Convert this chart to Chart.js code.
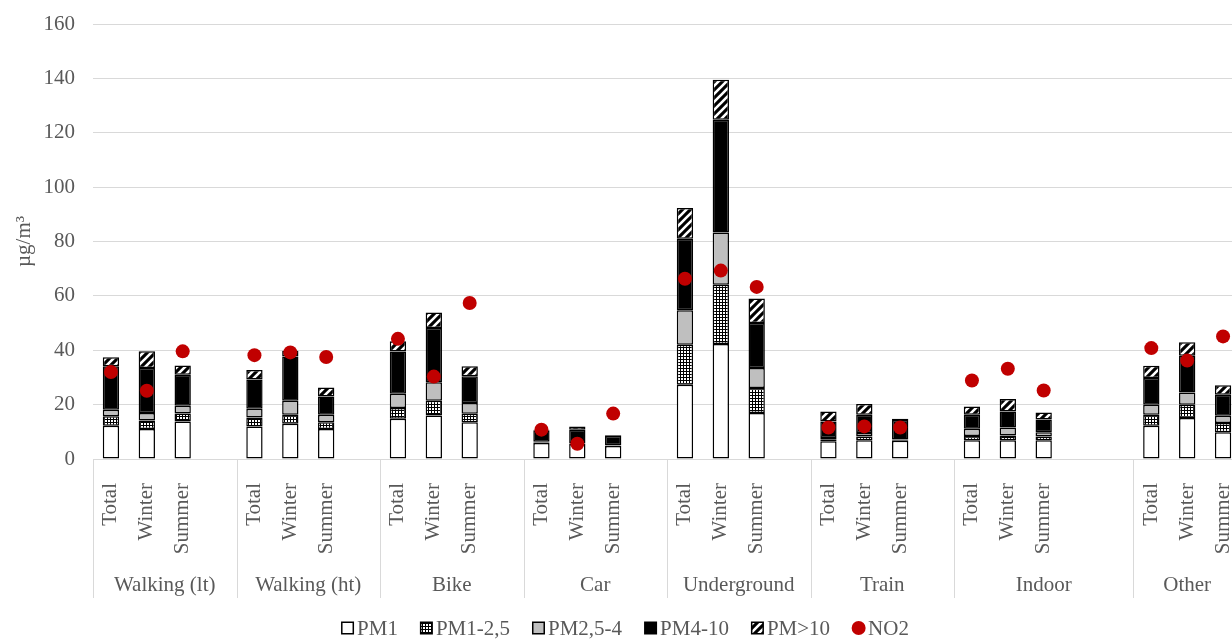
<!DOCTYPE html>
<html>
<head>
<meta charset="utf-8">
<script src="https://cdn.jsdelivr.net/npm/chart.js@4.4.1/dist/chart.umd.min.js"></script>
<style>
  html, body { margin: 0; padding: 0; overflow: hidden; background: #fff; }
  canvas { display: block; }
</style>
</head>
<body>
<canvas id="chart" width="1250" height="640"></canvas>
<script>
// Exposure categories and the three periods shown for each of them
const groups = ['Walking (lt)', 'Walking (ht)', 'Bike', 'Car', 'Underground', 'Train', 'Indoor', 'Other'];
const seasons = ['Total', 'Winter', 'Summer'];
// empty category slots left after each group on the x axis
const trailingGaps = [1, 1, 1, 1, 1, 1, 2, 0];

// Mass concentration per size fraction (µg/m³), ordered group by group: Total, Winter, Summer
const pm1    = [12.2, 11.0, 13.8,  12.0, 13.0, 11.0,  14.8, 16.0, 13.5,  5.9, 5.5, 4.8,  27.3, 42.3, 16.9,  6.5, 6.9, 6.7,  6.9, 6.9, 6.9,  12.2, 15.1, 9.8];
const pm1_25 = [3.5, 3.2, 2.9,  3.3, 3.3, 2.5,  4.0, 5.4, 3.1,  0.2, 0.2, 0.2,  14.7, 21.8, 9.2,  0.8, 1.4, 0.3,  1.6, 1.7, 1.4,  4.1, 4.9, 3.4];
const pm25_4 = [2.4, 2.7, 2.9,  3.2, 5.1, 2.8,  5.2, 6.8, 4.0,  0.2, 0.2, 0.1,  12.7, 19.2, 7.4,  0.4, 1.3, 0.2,  2.6, 3.0, 1.5,  3.7, 4.5, 2.7];
const pm4_10 = [16.0, 16.6, 11.4,  10.7, 16.3, 6.7,  15.5, 20.0, 9.8,  4.3, 4.9, 3.4,  26.3, 41.5, 16.5,  6.1, 6.7, 7.1,  5.2, 5.9, 4.7,  9.8, 13.5, 7.7];
const pm10   = [3.3, 6.1, 3.4,  3.5, 2.1, 3.3,  3.8, 5.7, 3.7,  0.2, 1.2, 0.2,  11.3, 14.7, 9.0,  3.7, 3.9, 0.5,  3.0, 4.6, 2.6,  4.5, 4.9, 3.5];
// NO2 concentration (µg/m³)
const no2    = [32.0, 25.1, 39.6,  38.2, 39.2, 37.5,  44.2, 30.3, 57.4,  10.8, 5.6, 16.7,  66.3, 69.3, 63.3,  11.6, 12.0, 11.6,  28.9, 33.2, 25.2,  40.8, 36.2, 45.1];

// y axis range
const yMin = 0, yMax = 160, yStep = 20;

const FONT = "'Liberation Serif', 'Times New Roman', serif";
const TEXT = '#595959';
const GRID = '#d9d9d9';

// spread a per-group series over the category slots, leaving the gap slots empty
function toSlots(values, filler) {
  const out = [];
  groups.forEach((g, gi) => {
    seasons.forEach((s, si) => out.push(values[gi * seasons.length + si]));
    for (let k = 0; k < trailingGaps[gi]; k++) out.push(filler);
  });
  return out;
}
const labels = toSlots(groups.flatMap(() => seasons), '');

function dotPattern() {
  const c = document.createElement('canvas');
  c.width = 3; c.height = 3;
  const x = c.getContext('2d');
  x.fillStyle = '#000'; x.fillRect(0, 0, 3, 3);
  x.fillStyle = '#fff'; x.fillRect(0, 0, 2, 2);
  return x.createPattern(c, 'repeat');
}
function hatchPattern() {
  const s = 8;
  const c = document.createElement('canvas');
  c.width = s; c.height = s;
  const x = c.getContext('2d');
  x.fillStyle = '#000'; x.fillRect(0, 0, s, s);
  x.strokeStyle = '#fff'; x.lineWidth = 2.6;
  x.beginPath();
  x.moveTo(0, s); x.lineTo(s, 0);
  x.moveTo(-s / 2, s / 2); x.lineTo(s / 2, -s / 2);
  x.moveTo(s / 2, s * 1.5); x.lineTo(s * 1.5, s / 2);
  x.stroke();
  return x.createPattern(c, 'repeat');
}

const barCommon = {
  borderColor: '#000',
  borderWidth: 1.5,
  borderSkipped: false,
  stack: 'pm',
  order: 1,
  barPercentage: 0.455,
  categoryPercentage: 1
};

const datasets = [
  { label: 'PM1',      data: toSlots(pm1, null),    backgroundColor: '#ffffff', ...barCommon },
  { label: 'PM1-2,5',  data: toSlots(pm1_25, null), backgroundColor: dotPattern(), ...barCommon },
  { label: 'PM2,5-4',  data: toSlots(pm25_4, null), backgroundColor: '#bfbfbf', ...barCommon },
  { label: 'PM4-10',   data: toSlots(pm4_10, null), backgroundColor: '#000000', ...barCommon },
  { label: 'PM>10',    data: toSlots(pm10, null),   backgroundColor: hatchPattern(), ...barCommon },
  {
    type: 'line', label: 'NO2', data: toSlots(no2, null),
    showLine: false, stack: 'no2', order: 0,
    pointRadius: 7, pointHoverRadius: 7, pointBorderWidth: 0,
    pointBackgroundColor: '#c00000', backgroundColor: '#c00000', borderColor: '#c00000'
  }
];

// group names and separators under the season labels
const groupAxis = {
  id: 'groupAxis',
  afterDraw(chart) {
    const xs = chart.scales.x;
    const ctx = chart.ctx;
    const step = xs.getPixelForValue(1) - xs.getPixelForValue(0);
    ctx.save();
    ctx.strokeStyle = GRID;
    ctx.lineWidth = 1;
    ctx.fillStyle = TEXT;
    ctx.font = '21px ' + FONT;
    ctx.textAlign = 'center';
    ctx.textBaseline = 'middle';
    let idx = 0;
    groups.forEach((g, gi) => {
      const n = seasons.length + trailingGaps[gi];
      const left = xs.getPixelForValue(idx) - step / 2;
      const right = xs.getPixelForValue(idx + n - 1) + step / 2;
      const lx = Math.round(left) + 0.5;
      ctx.beginPath();
      ctx.moveTo(lx, xs.top);
      ctx.lineTo(lx, xs.top + 139);
      ctx.stroke();
      ctx.fillText(g, (left + right) / 2, xs.top + 126);
      idx += n;
    });
    ctx.restore();
  }
};

// legend row at the bottom
const legendRow = {
  id: 'legendRow',
  afterDraw(chart) {
    const ctx = chart.ctx;
    ctx.save();
    ctx.font = '21px ' + FONT;
    ctx.textBaseline = 'middle';
    ctx.textAlign = 'left';
    const icon = 13, gap = 3, spacing = 22;
    const items = chart.data.datasets.map(d => ({ d, w: icon + gap + ctx.measureText(d.label).width }));
    const total = items.reduce((a, it) => a + it.w, 0) + spacing * (items.length - 1);
    let x = chart.width / 2 - total / 2;
    const cy = 628;
    items.forEach(({ d, w }) => {
      if (d.type === 'line') {
        ctx.fillStyle = d.pointBackgroundColor;
        ctx.beginPath();
        ctx.arc(x + icon / 2, cy, 7, 0, Math.PI * 2);
        ctx.fill();
      } else {
        ctx.fillStyle = d.backgroundColor;
        ctx.fillRect(x + 0.75, cy - 5.75, 11.5, 11.5);
        ctx.strokeStyle = '#000';
        ctx.lineWidth = 1.5;
        ctx.strokeRect(x + 0.75, cy - 5.75, 11.5, 11.5);
      }
      ctx.fillStyle = TEXT;
      ctx.fillText(d.label, x + icon + gap, cy + 1);
      x += w + spacing;
    });
    ctx.restore();
  }
};

new Chart(document.getElementById('chart'), {
  type: 'bar',
  data: { labels, datasets },
  options: {
    responsive: false,
    animation: false,
    events: [],
    layout: { padding: { top: 24, right: 9, bottom: 30, left: 0 } },
    plugins: {
      legend: { display: false },
      tooltip: { enabled: false }
    },
    scales: {
      x: {
        stacked: true,
        grid: { display: false },
        border: { display: false },
        ticks: {
          autoSkip: false,
          maxRotation: 90,
          minRotation: 90,
          padding: 16,
          color: TEXT,
          font: { family: FONT, size: 21 }
        },
        afterFit(scale) {
          scale.height = 151;
          scale.paddingLeft = 0;
          scale.paddingRight = 0;
        }
      },
      y: {
        stacked: true,
        min: yMin,
        max: yMax,
        grid: { color: GRID, lineWidth: 1, drawTicks: false },
        border: { display: false },
        ticks: {
          stepSize: yStep,
          padding: 18,
          color: TEXT,
          font: { family: FONT, size: 21 }
        },
        title: {
          display: true,
          text: 'µg/m³',
          color: TEXT,
          font: { family: FONT, size: 21 },
          padding: { top: 12, bottom: 0 }
        },
        afterFit(scale) {
          scale.width = 93;
          scale.paddingTop = 0;
          scale.paddingBottom = 0;
        }
      }
    }
  },
  plugins: [groupAxis, legendRow]
});
</script>
</body>
</html>
